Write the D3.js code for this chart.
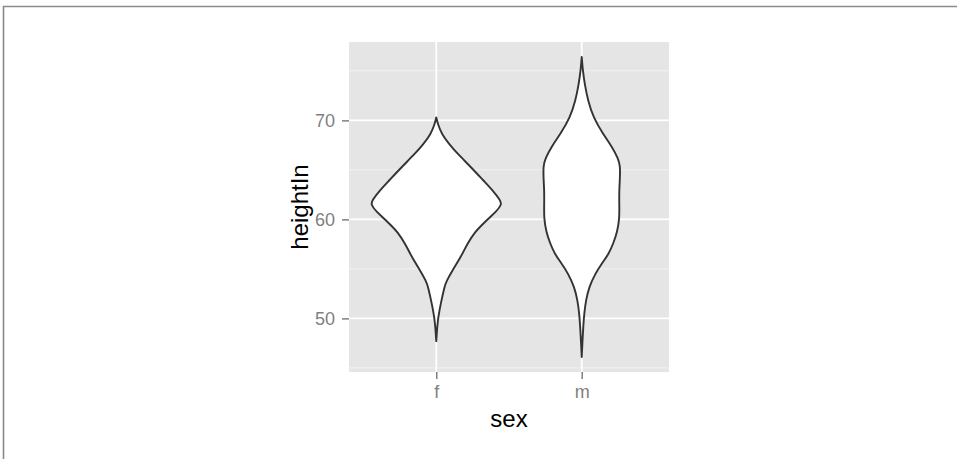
<!DOCTYPE html>
<html>
<head>
<meta charset="utf-8">
<script src="https://cdn.jsdelivr.net/npm/d3@7"></script>
<style>
  body { margin: 0; background: #fff; }
  svg { display: block; font-family: "Liberation Sans", Arial, Helvetica, sans-serif; }
</style>
</head>
<body>
<div id="chart"></div>
<script>
// categories on the x axis
const categories = ['f', 'm']

// violin outlines: heightIn value and estimated density
const heightF = [47.7, 49.2, 50.2, 51.5, 53.2, 53.7, 54.9, 56.2, 57.6, 58.8, 59.3, 60.0, 60.8, 61.5, 61.9, 62.9, 63.9, 65.2, 66.6, 67.6, 68.6, 69.6, 70.3]
const densityF = [0, 0.0012, 0.0026, 0.0055, 0.0101, 0.0121, 0.0202, 0.0303, 0.0384, 0.0485, 0.0545, 0.0630, 0.0739, 0.0805, 0.0790, 0.0697, 0.0582, 0.0436, 0.0265, 0.0158, 0.0068, 0.0020, 0]

const heightM = [46.1, 47.8, 49.2, 50.5, 51.8, 53.2, 54.5, 55.5, 56.5, 57.7, 58.7, 60.1, 61.4, 62.8, 64.1, 65.4, 66.1, 67.3, 68.6, 70.3, 72.0, 73.7, 75.0, 76.4]
const densityM = [0, 0.0010, 0.0019, 0.0031, 0.0051, 0.0091, 0.0166, 0.0242, 0.0333, 0.0394, 0.0436, 0.0464, 0.0462, 0.0460, 0.0470, 0.0473, 0.0450, 0.0376, 0.0263, 0.0142, 0.0076, 0.0036, 0.0014, 0]

const yTicks = [50, 60, 70]
const yMinorTicks = [45, 55, 65, 75]

const width = 957
const height = 459
const margin = { top: 42, right: 288, bottom: 87, left: 349 }
const innerWidth = width - margin.left - margin.right
const innerHeight = height - margin.top - margin.bottom

const groups = [
  { key: categories[0], values: heightF.map((h, i) => ({ h: h, d: densityF[i] })) },
  { key: categories[1], values: heightM.map((h, i) => ({ h: h, d: densityM[i] })) }
]

const svg = d3.select('#chart').append('svg')
  .attr('width', width)
  .attr('height', height)

// cut-off frame around the figure (top and left edge only)
svg.append('line').attr('x1', 3).attr('x2', width).attr('y1', 6.5).attr('y2', 6.5)
  .attr('stroke', '#8a8a8a').attr('stroke-width', 1.6)
svg.append('line').attr('x1', 3.5).attr('x2', 3.5).attr('y1', 6).attr('y2', height)
  .attr('stroke', '#8a8a8a').attr('stroke-width', 1.6)

const g = svg.append('g')
  .attr('transform', 'translate(' + margin.left + ',' + margin.top + ')')

// y scale with ggplot's 5% expansion
const allHeights = heightF.concat(heightM)
const ext = d3.extent(allHeights)
const pad = (ext[1] - ext[0]) * 0.05
const y = d3.scaleLinear()
  .domain([ext[0] - pad, ext[1] + pad])
  .range([innerHeight, 0])

const x = d3.scalePoint()
  .domain(categories)
  .range([0, innerWidth])
  .padding(0.6)

const maxDensity = d3.max(densityF.concat(densityM))
const w = d3.scaleLinear()
  .domain([0, maxDensity])
  .range([0, x.step() * 0.45])

// panel
g.append('rect')
  .attr('width', innerWidth)
  .attr('height', innerHeight)
  .attr('fill', '#e5e5e5')

g.selectAll('.minor')
  .data(yMinorTicks.filter(t => t > y.domain()[0] && t < y.domain()[1]))
  .enter().append('line')
  .attr('class', 'minor')
  .attr('x1', 0).attr('x2', innerWidth)
  .attr('y1', d => y(d)).attr('y2', d => y(d))
  .attr('stroke', '#f2f2f2').attr('stroke-width', 1)

g.selectAll('.major')
  .data(yTicks)
  .enter().append('line')
  .attr('class', 'major')
  .attr('x1', 0).attr('x2', innerWidth)
  .attr('y1', d => y(d)).attr('y2', d => y(d))
  .attr('stroke', '#fff').attr('stroke-width', 1.8)

g.selectAll('.vmajor')
  .data(categories)
  .enter().append('line')
  .attr('class', 'vmajor')
  .attr('x1', d => x(d)).attr('x2', d => x(d))
  .attr('y1', 0).attr('y2', innerHeight)
  .attr('stroke', '#fff').attr('stroke-width', 1.8)

// violins
const area = d3.area()
  .curve(d3.curveBasis)
  .y(d => y(d.h))

g.selectAll('.violin')
  .data(groups)
  .enter().append('path')
  .attr('class', 'violin')
  .attr('d', function (grp) {
    const cx = x(grp.key)
    return area
      .x0(d => cx - w(d.d))
      .x1(d => cx + w(d.d))(grp.values)
  })
  .attr('fill', '#fff')
  .attr('stroke', '#333')
  .attr('stroke-width', 1.9)
  .attr('stroke-linejoin', 'round')

// axes
const yAxis = g.append('g')
  .call(d3.axisLeft(y).tickValues(yTicks).tickSize(7).tickPadding(7).tickFormat(d3.format('d')))
  .attr('font-family', null)
  .attr('font-size', null)
yAxis.select('.domain').remove()
yAxis.selectAll('line').attr('stroke', '#7f7f7f').attr('stroke-width', 1.5)
yAxis.selectAll('text').attr('fill', '#7f7f7f').style('font-size', '18px')

const xAxis = g.append('g')
  .attr('transform', 'translate(0,' + innerHeight + ')')
  .call(d3.axisBottom(x).tickSize(7).tickPadding(6))
  .attr('font-family', null)
  .attr('font-size', null)
xAxis.select('.domain').remove()
xAxis.selectAll('line').attr('stroke', '#7f7f7f').attr('stroke-width', 1.5)
xAxis.selectAll('text').attr('fill', '#7f7f7f').style('font-size', '18px')

// titles
g.append('text')
  .attr('x', innerWidth / 2)
  .attr('y', innerHeight + 55)
  .attr('text-anchor', 'middle')
  .style('font-size', '24px')
  .attr('fill', '#000')
  .text('sex')

g.append('text')
  .attr('transform', 'translate(' + (-41) + ',' + (innerHeight / 2) + ') rotate(-90)')
  .attr('text-anchor', 'middle')
  .style('font-size', '24px')
  .attr('fill', '#000')
  .text('heightIn')
</script>
</body>
</html>
